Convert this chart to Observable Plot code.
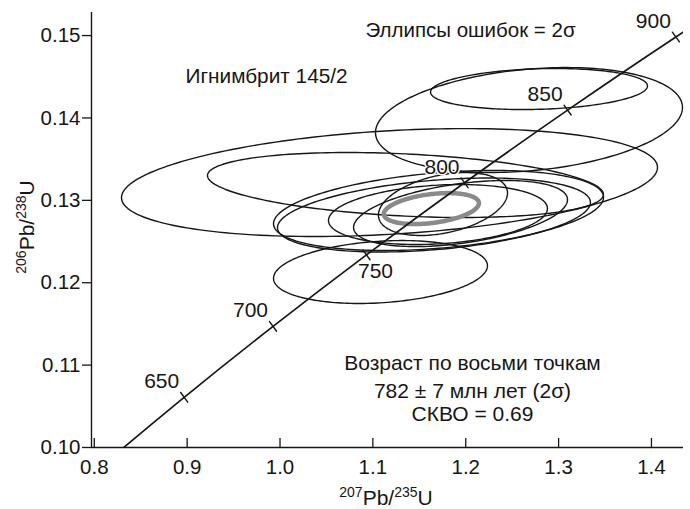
<!DOCTYPE html>
<html>
<head>
<meta charset="utf-8">
<script src="https://cdn.jsdelivr.net/npm/d3@7"></script>
<script src="https://cdn.jsdelivr.net/npm/@observablehq/plot@0.6"></script>
<style>
  html, body { margin: 0; padding: 0; background: #fff; }
  #chart { width: 690px; height: 509px; }
</style>
</head>
<body>
<div id="chart"></div>
<script>
// ---- Concordia points (age Ma, 207Pb/235U, 206Pb/238U) ----
const concAge = [600, 650, 700, 750, 800, 850, 900, 950];
const concX = [0.8057, 0.8968, 0.9925, 1.0931, 1.1987, 1.3097, 1.4263, 1.5487];
const concY = [0.09754, 0.10609, 0.11470, 0.12338, 0.13213, 0.14095, 0.14983, 0.15878];
const labelAges = [650, 700, 750, 800, 850, 900];

// ---- Error ellipses (2σ): centre, half-extent in x and y, correlation ----
const ellId  = ["a", "b", "c", "d", "e", "f", "g", "h", "i", "j"];
const ellCx  = [1.2789, 1.2681, 1.1179, 1.1351, 1.1082, 1.1707, 1.1658, 1.1701, 1.1944, 1.1755];
const ellCy  = [0.14351, 0.13975, 0.13216, 0.13186, 0.12130, 0.12877, 0.12822, 0.12828, 0.12840, 0.12955];
const ellSx  = [0.1168, 0.1653, 0.2886, 0.2132, 0.1152, 0.1777, 0.1685, 0.1179, 0.1152, 0.0695];
const ellSy  = [0.00249, 0.00637, 0.00655, 0.003945, 0.00382, 0.00486, 0.00449, 0.00364, 0.00401, 0.00382];
const ellRho = [0.15, 0.24, 0.28, -0.29, 0.2, 0.33, 0.34, 0.2, 0.42, 0.35];

// Concordia-age ellipse (grey)
const meanCx = [1.163], meanCy = [0.1290], meanSx = [0.0512], meanSy = [0.00188], meanRho = [0.35];

// ---- Axis ticks ----
const xTicks = [0.8, 0.9, 1.0, 1.1, 1.2, 1.3, 1.4];
const yTicks = [0.10, 0.11, 0.12, 0.13, 0.14, 0.15];

// ---- Texts ----
const sampleText = "Игнимбрит 145/2";
const ellipseNote = "Эллипсы ошибок = 2σ";
const resultLines = ["Возраст по восьми точкам", "782 ± 7 млн лет (2σ)", "СКВО = 0.69"];

// build tables
const conc = concAge.map((a, i) => ({age: a, x: concX[i], y: concY[i]}));
const concLab = conc.filter(d => labelAges.includes(d.age));

function ellipseOutline(ids, cx, cy, sx, sy, rho) {
  const out = [];
  ids.forEach((id, i) => {
    const q = Math.sqrt(1 - rho[i] * rho[i]);
    for (let k = 0; k <= 200; k++) {
      const t = 2 * Math.PI * k / 200;
      const c = Math.cos(t), s = Math.sin(t);
      out.push({id, x: cx[i] + sx[i] * c, y: cy[i] + sy[i] * (rho[i] * c + q * s)});
    }
  });
  return out;
}
const ellData = ellipseOutline(ellId, ellCx, ellCy, ellSx, ellSy, ellRho);
const meanData = ellipseOutline(["m"], meanCx, meanCy, meanSx, meanSy, meanRho);

const tickShape = {draw(ctx, l) { ctx.moveTo(0, 0); ctx.lineTo(0, -l); }};
const ink = "#161616";
const font = "'Liberation Sans', Arial, Helvetica, sans-serif";

const xDom = [0.797, 1.4345];
const yDom = [0.10, 0.1528];

const svg = Plot.plot({
  width: 690,
  height: 509,
  marginLeft: 91,
  marginRight: 7,
  marginTop: 12,
  marginBottom: 62,
  style: {fontFamily: font, fontSize: "20px", color: ink, background: "#fff", overflow: "visible"},
  x: {domain: xDom, label: null},
  y: {domain: yDom, label: null},
  marks: [
    Plot.line(ellData, {x: "x", y: "y", z: "id", stroke: ink, strokeWidth: 1.4}),
    Plot.line(meanData, {x: "x", y: "y", z: "id", stroke: "#8a8a8a", strokeWidth: 4.5}),
    Plot.line(conc, {x: "x", y: "y", stroke: ink, strokeWidth: 1.7, curve: "catmull-rom", clip: true}),
    Plot.vector(concLab, {x: "x", y: "y", length: 12, rotate: 144, anchor: "middle", shape: tickShape, stroke: ink, strokeWidth: 1.4}),
    Plot.text(concLab.filter(d => d.age !== 750), {x: "x", y: "y", text: d => String(d.age), textAnchor: "end", dx: -5, dy: -16, fontSize: 21, fill: ink, stroke: "#fff", strokeWidth: 3, paintOrder: "stroke"}),
    Plot.text(concLab.filter(d => d.age === 750), {x: "x", y: "y", text: d => String(d.age), textAnchor: "middle", dx: 9, dy: 16, fontSize: 21, fill: ink, stroke: "#fff", strokeWidth: 3, paintOrder: "stroke"}),
    Plot.ruleY([yDom[0]], {stroke: ink, strokeWidth: 1.4}),
    Plot.ruleX([xDom[0]], {stroke: ink, strokeWidth: 1.4}),
    Plot.ruleX(xTicks, {insetTop: 426, stroke: ink, strokeWidth: 1.3}),
    Plot.axisX({ticks: xTicks, tickSize: 0, tickPadding: 12, tickFormat: ".1f", label: null, fontSize: 20.5, fill: ink}),
    Plot.axisY({ticks: yTicks, tickSize: 9, tickPadding: 2, tickFormat: ".2f", label: null, fontSize: 20.5, fill: ink, stroke: ink, strokeWidth: 1.3}),
    Plot.text([sampleText], {frameAnchor: "top-left", dx: 94, dy: 56, textAnchor: "start", fontSize: 20.8, fill: ink}),
    Plot.text([ellipseNote], {frameAnchor: "top-left", dx: 274, dy: 10, textAnchor: "start", fontSize: 20.5, fill: ink}),
    Plot.text([resultLines[0]], {frameAnchor: "top-left", dx: 381, dy: 343, textAnchor: "middle", fontSize: 21, fill: ink}),
    Plot.text([resultLines[1]], {frameAnchor: "top-left", dx: 381, dy: 371, textAnchor: "middle", fontSize: 21, fill: ink}),
    Plot.text([resultLines[2]], {frameAnchor: "top-left", dx: 381, dy: 394, textAnchor: "middle", fontSize: 21, fill: ink})
  ]
});

document.getElementById("chart").appendChild(svg);

// Axis titles with superscript mass numbers
const s = d3.select(svg);
function isoLabel(g, a, b) {
  g.append("tspan").attr("font-size", 14).attr("dy", -8).text(a);
  g.append("tspan").attr("font-size", 21).attr("dy", 8).text("Pb/");
  g.append("tspan").attr("font-size", 14).attr("dy", -8).text(b);
  g.append("tspan").attr("font-size", 21).attr("dy", 8).text("U");
}
const xl = s.append("text").attr("x", 386).attr("y", 505).attr("text-anchor", "middle")
  .attr("font-family", font).attr("fill", ink);
isoLabel(xl, "207", "235");
const yl = s.append("text").attr("transform", "translate(34,227) rotate(-90)").attr("text-anchor", "middle")
  .attr("font-family", font).attr("fill", ink);
isoLabel(yl, "206", "238");
</script>
</body>
</html>
